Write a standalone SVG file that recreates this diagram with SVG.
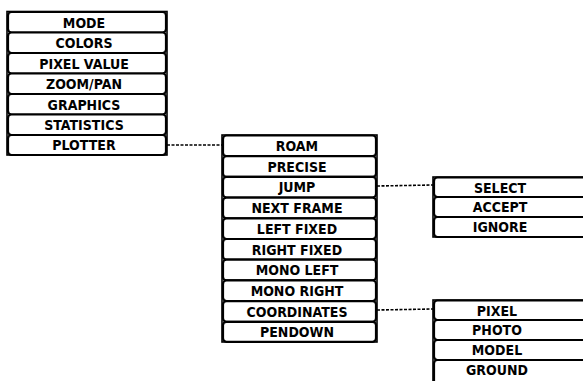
<svg xmlns="http://www.w3.org/2000/svg" width="583" height="381" viewBox="0 0 583 381">
<style>
.bg{fill:#fff}
.outer{fill:none;stroke:#000;stroke-width:1.6}
.row{fill:#fff;stroke:#000;stroke-width:2.2}
.t{font-family:"DejaVu Sans Condensed","DejaVu Sans",sans-serif;font-stretch:condensed;font-weight:bold;font-size:14px;fill:#000;text-anchor:middle}
.c{fill:none;stroke:#000;stroke-width:1.6;stroke-dasharray:3 1.5}
</style>
<rect class="bg" x="0" y="0" width="583" height="381"/>
<g id="connectors">
<line class="c" x1="167" y1="145" x2="222" y2="145"/>
<line class="c" x1="377" y1="186" x2="433" y2="185"/>
<line class="c" x1="377" y1="310" x2="433" y2="309"/>
</g>
<g id="menu-main">
<rect class="outer" x="7" y="11.5" width="160" height="143.5"/>
<g id="n-mode"><rect class="row" x="8" y="12" width="158" height="20.5" rx="3.5"/><text class="t" x="84" y="27.5">MODE</text></g>
<g id="n-colors"><rect class="row" x="8" y="32.5" width="158" height="20.5" rx="3.5"/><text class="t" x="84" y="48">COLORS</text></g>
<g id="n-pixelvalue"><rect class="row" x="8" y="53" width="158" height="20.5" rx="3.5"/><text class="t" x="84" y="68.5">PIXEL VALUE</text></g>
<g id="n-zoompan"><rect class="row" x="8" y="73.5" width="158" height="20.5" rx="3.5"/><text class="t" x="84" y="89">ZOOM/PAN</text></g>
<g id="n-graphics"><rect class="row" x="8" y="94" width="158" height="20.5" rx="3.5"/><text class="t" x="84" y="109.5">GRAPHICS</text></g>
<g id="n-statistics"><rect class="row" x="8" y="114.5" width="158" height="20.5" rx="3.5"/><text class="t" x="84" y="130">STATISTICS</text></g>
<g id="n-plotter"><rect class="row" x="8" y="135" width="158" height="20" rx="3.5"/><text class="t" x="84" y="150">PLOTTER</text></g>
</g>
<g id="menu-plotter">
<rect class="outer" x="222" y="135" width="155" height="207"/>
<g id="n-roam"><rect class="row" x="223" y="135.5" width="153" height="20.7" rx="3.5"/><text class="t" x="297" y="151">ROAM</text></g>
<g id="n-precise"><rect class="row" x="223" y="156.2" width="153" height="20.7" rx="3.5"/><text class="t" x="297" y="171.7">PRECISE</text></g>
<g id="n-jump"><rect class="row" x="223" y="176.9" width="153" height="20.7" rx="3.5"/><text class="t" x="297" y="192.4">JUMP</text></g>
<g id="n-nextframe"><rect class="row" x="223" y="197.6" width="153" height="20.7" rx="3.5"/><text class="t" x="297" y="213.1">NEXT FRAME</text></g>
<g id="n-leftfixed"><rect class="row" x="223" y="218.3" width="153" height="20.7" rx="3.5"/><text class="t" x="297" y="233.8">LEFT FIXED</text></g>
<g id="n-rightfixed"><rect class="row" x="223" y="239" width="153" height="20.7" rx="3.5"/><text class="t" x="297" y="254.5">RIGHT FIXED</text></g>
<g id="n-monoleft"><rect class="row" x="223" y="259.7" width="153" height="20.7" rx="3.5"/><text class="t" x="297" y="275.2">MONO LEFT</text></g>
<g id="n-monoright"><rect class="row" x="223" y="280.4" width="153" height="20.7" rx="3.5"/><text class="t" x="297" y="295.9">MONO RIGHT</text></g>
<g id="n-coordinates"><rect class="row" x="223" y="301.1" width="153" height="20.7" rx="3.5"/><text class="t" x="297" y="316.6">COORDINATES</text></g>
<g id="n-pendown"><rect class="row" x="223" y="321.8" width="153" height="20" rx="3.5"/><text class="t" x="297" y="337">PENDOWN</text></g>
</g>
<g id="menu-jump">
<rect class="outer" x="433" y="177" width="160" height="60"/>
<g id="n-select"><rect class="row" x="434" y="177.5" width="160" height="19.5" rx="3.5"/><text class="t" x="500" y="192.5">SELECT</text></g>
<g id="n-accept"><rect class="row" x="434" y="197" width="160" height="20" rx="3.5"/><text class="t" x="500" y="212">ACCEPT</text></g>
<g id="n-ignore"><rect class="row" x="434" y="217" width="160" height="20" rx="3.5"/><text class="t" x="500" y="232">IGNORE</text></g>
</g>
<g id="menu-coordinates">
<rect class="outer" x="433" y="300" width="160" height="90"/>
<g id="n-pixel"><rect class="row" x="434" y="300.5" width="160" height="19.5" rx="3.5"/><text class="t" x="497" y="315.5">PIXEL</text></g>
<g id="n-photo"><rect class="row" x="434" y="320" width="160" height="20" rx="3.5"/><text class="t" x="497" y="335">PHOTO</text></g>
<g id="n-model"><rect class="row" x="434" y="340" width="160" height="20" rx="3.5"/><text class="t" x="497" y="355">MODEL</text></g>
<g id="n-ground"><rect class="row" x="434" y="360" width="160" height="30" rx="3.5"/><text class="t" x="497" y="375">GROUND</text></g>
</g>
</svg>
